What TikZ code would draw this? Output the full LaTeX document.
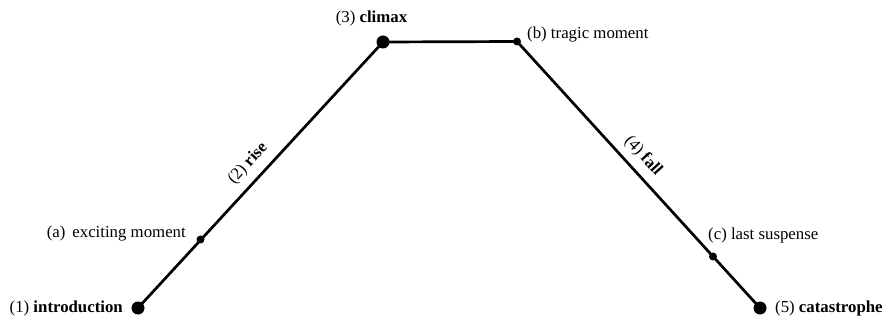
\documentclass[tikz,border=0pt]{standalone}
\usepackage{fontspec}
\setmainfont{Liberation Serif}
\begin{document}
\begin{tikzpicture}[x=1pt,y=-1pt,
  bigdot/.style={circle,fill=black,inner sep=0pt,minimum size=13pt},
  smalldot/.style={circle,fill=black,inner sep=0pt,minimum size=8pt},
  lbl/.style={font=\fontsize{16.8}{19}\selectfont,inner sep=0pt},
  plotline/.style={line width=2.7pt}]
\useasboundingbox (0,0) rectangle (886,320);
\coordinate (intro) at (138,308);
\coordinate (climax) at (383,42);
\coordinate (tragic) at (517,41.5);
\coordinate (cat) at (760,308);
\draw[plotline] (intro) -- (climax)
  node[lbl,pos=0.5,sloped,above=8pt] (rise) {(2) \textbf{rise}};
\draw[plotline] (climax) -- (tragic);
\draw[plotline] (tragic) -- (cat)
  node[lbl,pos=0.47,sloped,above=7pt] (fall) {(4) \textbf{fall}};
\node[bigdot] (dintro) at (intro) {};
\node[smalldot] (excite) at (200.5,239.5) {};
\node[bigdot] (dclimax) at (climax) {};
\node[smalldot] (dtragic) at (tragic) {};
\node[smalldot] (last) at (713,256.5) {};
\node[bigdot] (dcat) at (cat) {};
\node[lbl,anchor=east] (tintro) at (123,308) {(1) \textbf{introduction}};
\node[lbl,anchor=east] (texcite) at (186,233) {(a)\, exciting moment};
\node[lbl] (tclimax) at (371.5,18) {(3) \textbf{climax}};
\node[lbl,anchor=west] (ttragic) at (527,34.5) {(b) tragic moment};
\node[lbl,anchor=west] (tlast) at (708,235) {(c) last suspense};
\node[lbl,anchor=west] (tcat) at (775,308) {(5) \textbf{catastrophe}};
\end{tikzpicture}
\end{document}
